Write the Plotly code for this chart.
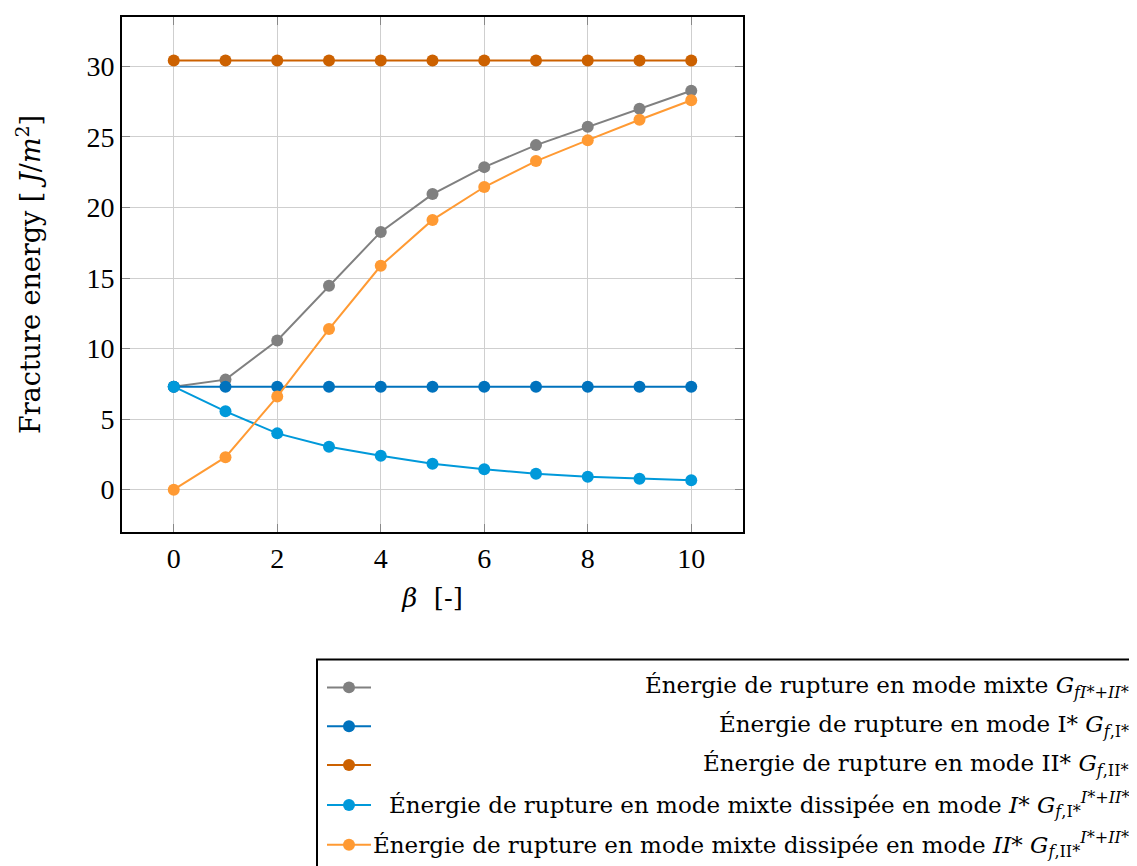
import plotly.graph_objects as go

beta = [0, 1, 2, 3, 4, 5, 6, 7, 8, 9, 10]
g_mixed = [7.3, 7.8, 10.57, 14.45, 18.27, 20.95, 22.86, 24.42, 25.72, 27.0, 28.27]
g_mode1 = [7.3] * 11
g_mode2 = [30.42] * 11
g_mixed_1 = [7.3, 5.55, 3.99, 3.04, 2.40, 1.84, 1.45, 1.13, 0.92, 0.78, 0.67]
g_mixed_2 = [0.0, 2.3, 6.6, 11.38, 15.87, 19.12, 21.45, 23.29, 24.77, 26.22, 27.6]

x_ticks = [0, 2, 4, 6, 8, 10]
y_ticks = [0, 5, 10, 15, 20, 25, 30]

names = [
    "Énergie de rupture en mode mixte <i>G</i><sub><i>fI</i>*<i>+II</i>*</sub>",
    "Énergie de rupture en mode I* <i>G</i><sub><i>f</i>,I*</sub>",
    "Énergie de rupture en mode II* <i>G</i><sub><i>f</i>,II*</sub>",
    "Énergie de rupture en mode mixte dissipée en mode <i>I</i>* <i>G</i><sub><i>f</i>,I*</sub><sup><i>I</i>*<i>+II</i>*</sup>",
    "Énergie de rupture en mode mixte dissipée en mode <i>II</i>* <i>G</i><sub><i>f</i>,II*</sub><sup><i>I</i>*<i>+II</i>*</sup>",
]
series = [g_mixed, g_mode1, g_mode2, g_mixed_1, g_mixed_2]
colors = ["#808080", "#0072BD", "#CC6100", "#0099DA", "#FF9A33"]

SERIF = "DejaVu Serif"
TICKF = "Liberation Serif"

# plot area in screen pixels (for placing the hand-built legend)
PL, PR, PT, PB = 122, 743, 15, 532
def px(xp):
    return (xp - PL) / (PR - PL)
def py(yp):
    return (PB - yp) / (PB - PT)

fig = go.Figure()
for name, ys, c in zip(names, series, colors):
    fig.add_trace(go.Scatter(
        x=beta, y=ys, name=name, mode="lines+markers",
        line=dict(color=c, width=2),
        marker=dict(color=c, size=12),
        showlegend=False,
    ))

axis_common = dict(
    showgrid=True, gridcolor="#cfcfcf", gridwidth=1,
    showline=True, linecolor="black", linewidth=2, mirror="ticks",
    ticks="inside", ticklen=8, tickcolor="#888888", tickwidth=1,
    zeroline=False,
    tickfont=dict(family=TICKF, size=28, color="black"),
)

fig.update_xaxes(
    range=[-1, 11], tickvals=x_ticks,
    title=dict(text="<i>β</i>  [-]", font=dict(family=SERIF, size=26, color="black"), standoff=16),
    **axis_common,
)
fig.update_yaxes(
    range=[-3, 33.5], tickvals=y_ticks,
    title=dict(text="Fracture energy [ <i>J</i>/<i>m</i><sup>2</sup>]", font=dict(family=SERIF, size=27, color="black"), standoff=38),
    **axis_common,
)

# legend box, keys and right-aligned labels
shapes = [dict(type="rect", xref="paper", yref="paper",
               x0=px(317), x1=px(1160), y0=py(660), y1=py(890),
               line=dict(color="black", width=2), fillcolor="white", layer="above")]
annotations = []
row_y = [688, 727, 766, 806, 846]
for name, c, ry in zip(names, colors, row_y):
    shapes.append(dict(type="line", xref="paper", yref="paper",
                       x0=px(327), x1=px(371), y0=py(ry), y1=py(ry),
                       line=dict(color=c, width=2), layer="above"))
    shapes.append(dict(type="circle", xref="paper", yref="paper",
                       x0=px(343), x1=px(355), y0=py(ry + 6), y1=py(ry - 6),
                       line=dict(color=c, width=0), fillcolor=c, layer="above"))
    annotations.append(dict(text=name, xref="paper", yref="paper",
                            x=px(1131), y=py(ry), xanchor="right", yanchor="middle",
                            showarrow=False, align="right",
                            font=dict(family=SERIF, size=23, color="black")))

fig.update_layout(
    width=1137, height=866,
    margin=dict(l=PL - 8, r=1137 - PR + 8, t=PT - 8, b=866 - PB + 8),
    plot_bgcolor="white", paper_bgcolor="white",
    font=dict(family=SERIF, color="black"),
    showlegend=False,
    shapes=shapes,
    annotations=annotations,
)

fig.write_html("out.html")
